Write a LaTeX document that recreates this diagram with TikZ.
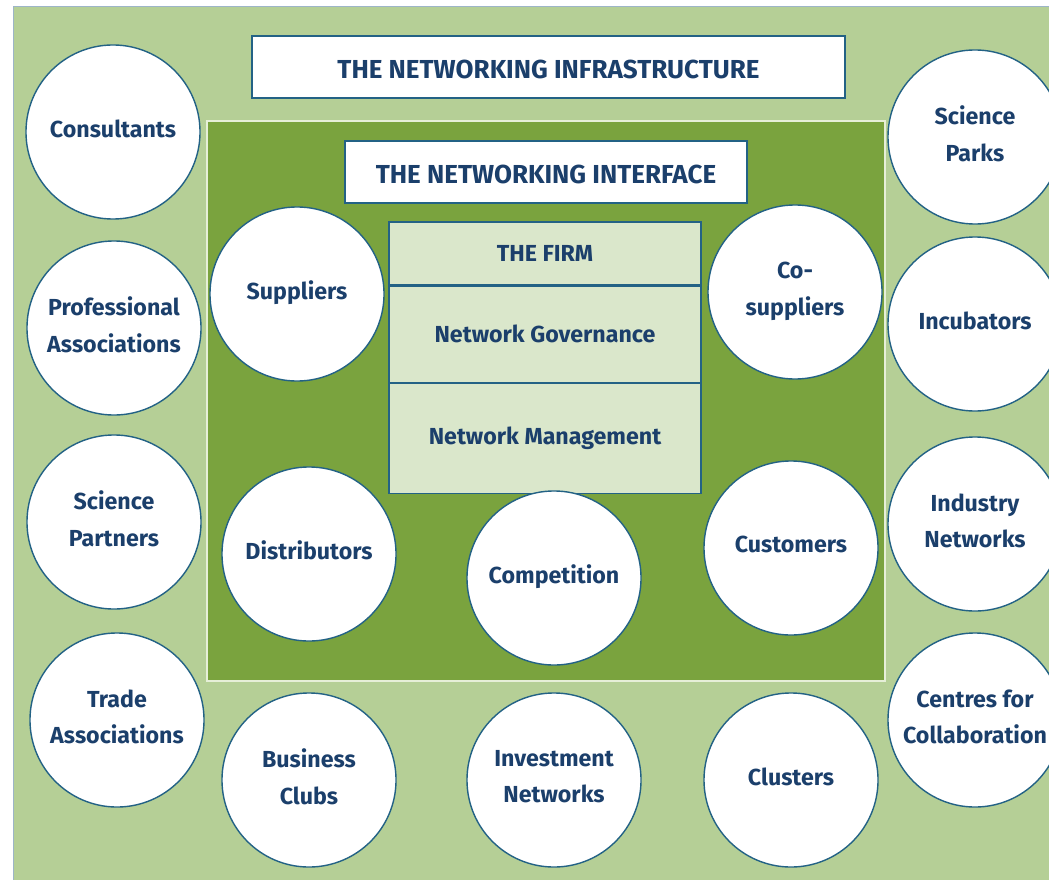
\documentclass[tikz,border=0pt]{standalone}
\usepackage{fontspec}
\setmainfont{Fira Sans}
\usetikzlibrary{positioning}
\definecolor{navy}{HTML}{1B3F6B}
\definecolor{edge}{HTML}{236285}
\definecolor{lightgreen}{HTML}{B5CF96}
\definecolor{darkgreen}{HTML}{7AA33E}
\definecolor{firmfill}{HTML}{DAE7CB}
\definecolor{frame}{HTML}{9DB5C8}
\definecolor{paleline}{HTML}{E6EFD8}

\begin{document}
\begin{tikzpicture}[x=0.025cm,y=-0.025cm,
  every node/.style={font=\bfseries\fontsize{16.5}{26}\selectfont,text=navy,align=center},
  party/.style={circle,draw=edge,line width=1pt,fill=white,minimum size=4.35cm,inner sep=0pt,text depth=5pt},
  title/.style={rectangle,draw=edge,line width=1pt,fill=white,minimum height=1.55cm,text height=17pt,font=\bfseries\fontsize{18.5}{22}\selectfont},
  layer/.style={rectangle,draw=edge,line width=0.8pt,fill=firmfill,minimum width=7.8cm}]
  \useasboundingbox (0,0) rectangle (1049,879);
  \clip (0,0) rectangle (1049,879);
  % infrastructure and interface panels
  \draw[frame,fill=lightgreen] (13,6) rectangle (1070,900);
  \draw[paleline,line width=1.4pt,fill=darkgreen] (207,121) rectangle (885,681);
  \node[title,minimum width=14.825cm] (infra) at (548.5,67) {THE NETWORKING INFRASTRUCTURE};
  \node[title,minimum width=10.05cm] (iface) at (546,172) {THE NETWORKING INTERFACE};
  % the firm
  \node[layer,minimum height=1.575cm] (firm) at (545,253.5) {THE FIRM};
  \node[layer,minimum height=2.4cm,below=0pt of firm] (gov) {Network Governance};
  \node[layer,minimum height=2.75cm,below=0pt of gov] (mgmt) {Network Management};
  % interface circles
  \node[party] (suppliers) at (297,294) {Suppliers};
  \node[party] (cosuppliers) at (795,292) {Co-\\suppliers};
  \node[party] (distrib) at (309,554) {Distributors};
  \node[party] (compet) at (554,578) {Competition};
  \node[party] (customers) at (791,548) {Customers};
  % infrastructure circles
  \node[party] (consult) at (113,132) {Consultants};
  \node[party] (profassoc) at (114,328) {Professional\\Associations};
  \node[party] (scipartners) at (114,522) {Science\\Partners};
  \node[party] (tradeassoc) at (117,720) {Trade\\Associations};
  \node[party] (bizclubs) at (309,780) {Business\\Clubs};
  \node[party] (invest) at (554,780) {Investment\\Networks};
  \node[party] (clusters) at (791,780) {Clusters};
  \node[party] (centres) at (975,720) {Centres for\\Collaboration};
  \node[party] (indnet) at (975,524) {Industry\\Networks};
  \node[party] (incub) at (975,324) {Incubators};
  \node[party] (scipark) at (975,137) {Science\\Parks};
\end{tikzpicture}
\end{document}
